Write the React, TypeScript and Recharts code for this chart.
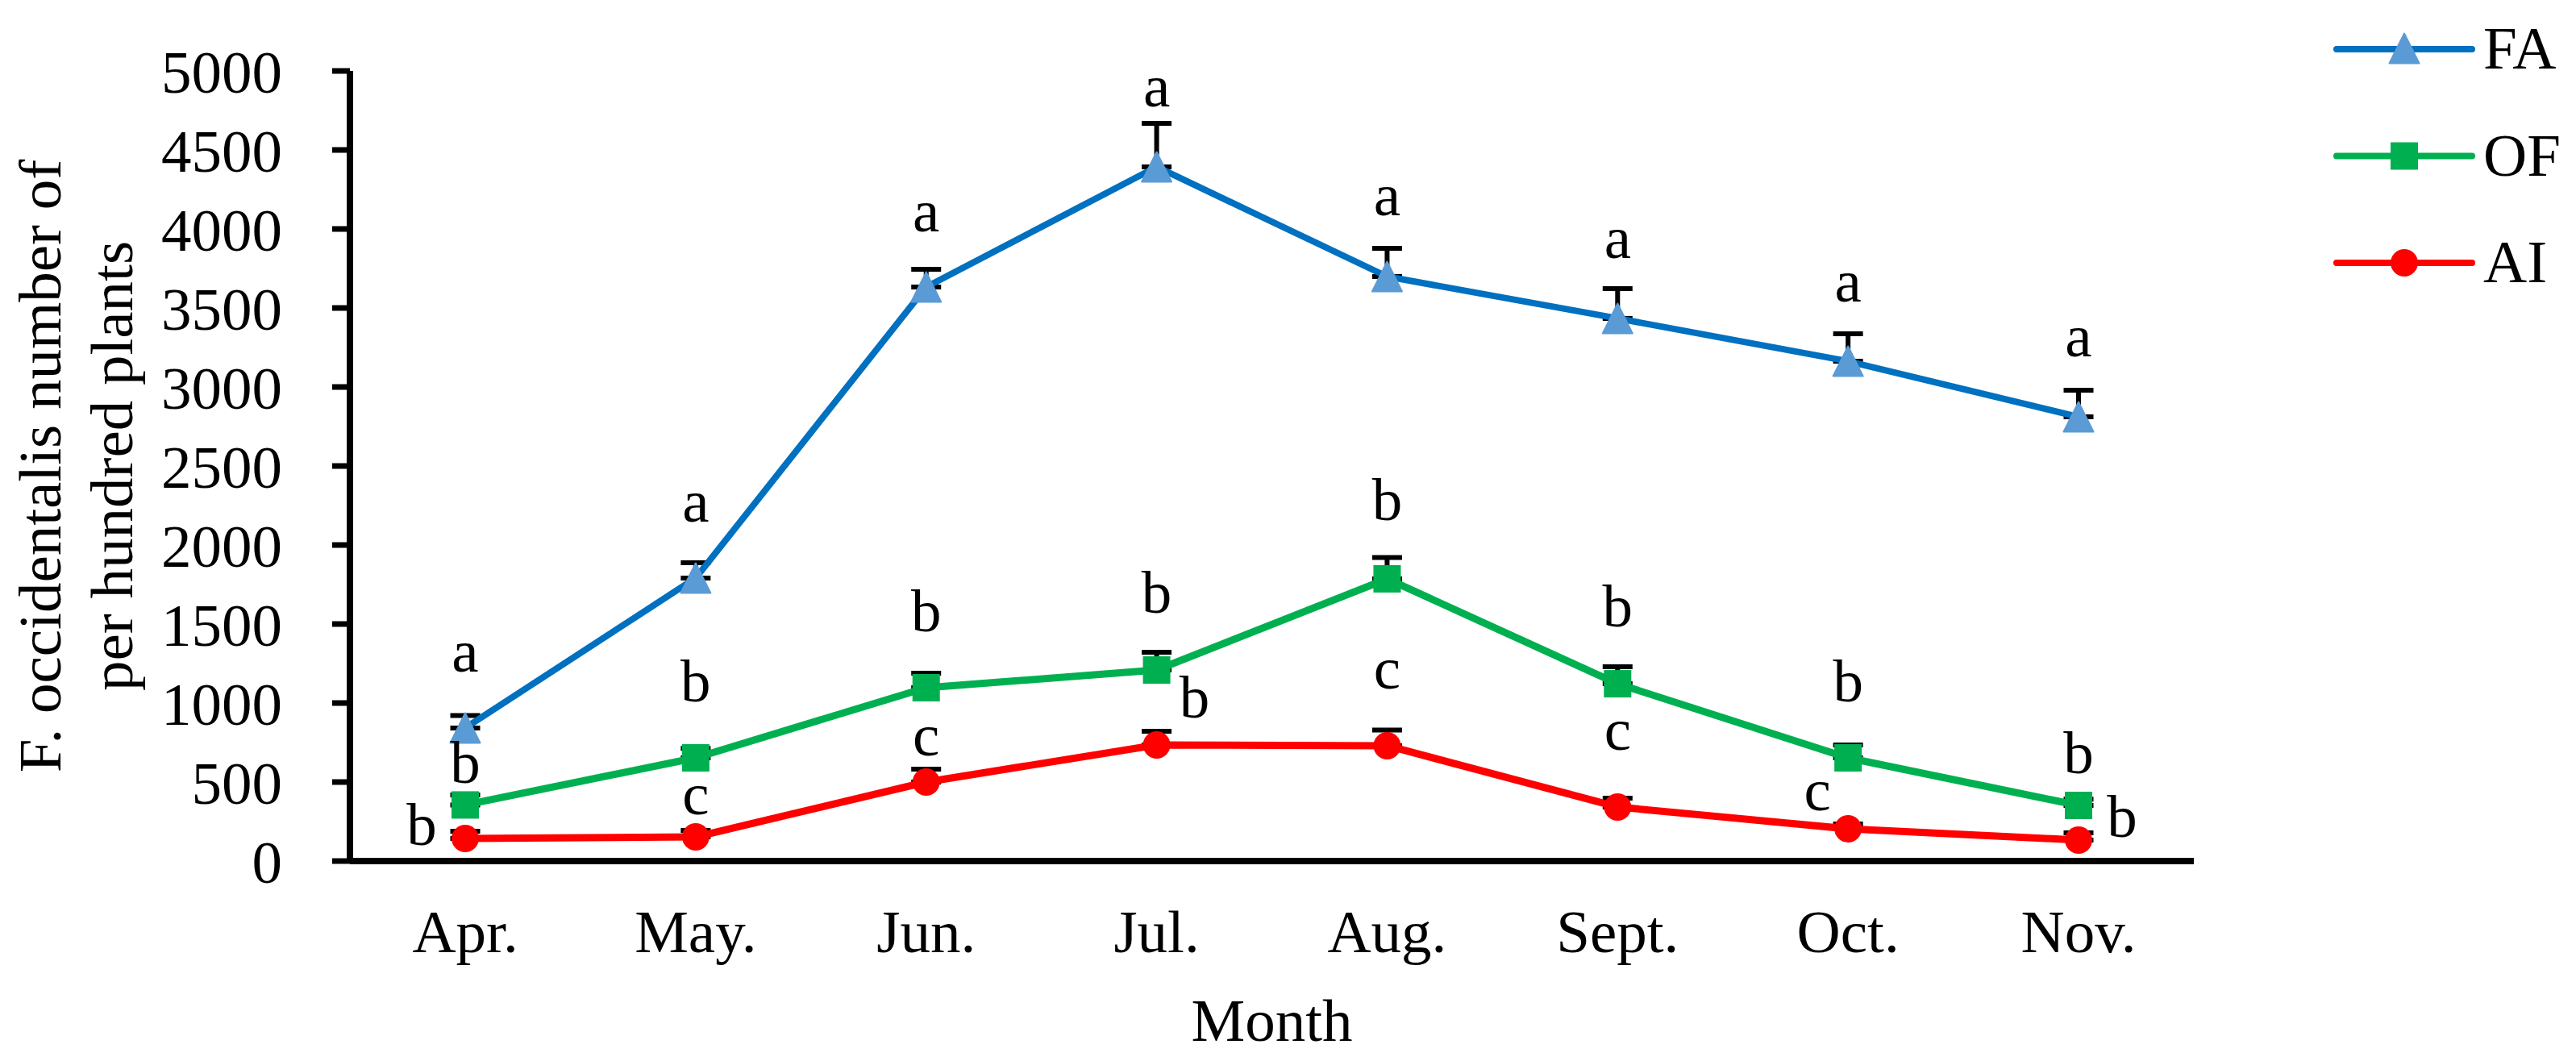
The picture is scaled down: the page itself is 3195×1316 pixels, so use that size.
import React from 'react';
import { LineChart, Line, XAxis, YAxis, ErrorBar, LabelList, Legend } from 'recharts';

// ---- data ----
const months = ['Apr.', 'May.', 'Jun.', 'Jul.', 'Aug.', 'Sept.', 'Oct.', 'Nov.'];
const faValues = [842, 1791, 3633, 4393, 3699, 3434, 3163, 2811];
const faErr = [79, 97, 112, 275, 179, 188, 174, 169];
const faSig = ['a', 'a', 'a', 'a', 'a', 'a', 'a', 'a'];
const ofValues = [355, 653, 1097, 1209, 1786, 1122, 653, 352];
const ofErr = [63, 60, 92, 112, 135, 108, 82, 40];
const ofSig = ['b', 'b', 'b', 'b', 'b', 'b', 'b', 'b'];
const aiValues = [143, 153, 500, 735, 730, 342, 204, 133];
const aiErr = [46, 41, 82, 86, 99, 56, 31, 46];
const aiSig = ['b', 'c', 'c', 'b', 'c', 'c', 'c', 'b'];
const yTicks = [0, 500, 1000, 1500, 2000, 2500, 3000, 3500, 4000, 4500, 5000];
const seriesNames = ['FA', 'OF', 'AI'];
const yTitle1 = 'F. occidentalis number of';
const yTitle2 = 'per hundred plants';
const xTitle = 'Month';

const data = months.map((m, i) => ({
  month: m,
  FA: faValues[i],
  faErr: [0, faErr[i]],
  faSig: faSig[i],
  OF: ofValues[i],
  ofErr: [0, ofErr[i]],
  ofSig: ofSig[i],
  AI: aiValues[i],
  aiErr: [0, aiErr[i]],
  aiSig: aiSig[i],
}));

// ---- style ----
const FONT = '"Liberation Serif", "Times New Roman", serif';
const FS = 75;
const W = 3187;
const H = 1300;
const FA_LINE = '#0070C0';
const FA_MARK = '#5B9BD5';
const OF_COLOR = '#00B050';
const AI_COLOR = '#FF0000';

// label placement (pixel offsets of the letter baseline from its point)
const faDx = [0, 0, 0, 0, 0, 0, 0, 0];
const faDy = [-70, -70, -69, -75, -76, -75, -74, -75];
const ofDx = [0, 0, 0, 0, 0, 0, 0, 0];
const ofDy = [-27, -70, -70, -71, -73, -71, -70, -40];
const aiDx = [-54, 0, 0, 47, 0, 0, -38, 54];
const aiDy = [8, -28, -33, -34, -71, -71, -23, -4];

const triPath = (cx: number, cy: number, h: number) =>
  `M${cx},${cy - h} L${cx + h},${cy + h} L${cx - h},${cy + h} Z`;

const TriangleDot = (p: any) => {
  const { cx, cy, index } = p;
  if (cx == null || cy == null) return <g key={`t${index}`} />;
  return (
    <path key={`t${index}`} d={triPath(cx, cy, 18.5)} fill={FA_MARK} stroke={FA_MARK}
      strokeWidth={2} strokeLinejoin="round" />
  );
};
const SquareDot = (p: any) => {
  const { cx, cy, index } = p;
  if (cx == null || cy == null) return <g key={`s${index}`} />;
  return <rect key={`s${index}`} x={cx - 17} y={cy - 17} width={34} height={34} fill={OF_COLOR} />;
};
const CircleDot = (p: any) => {
  const { cx, cy, index } = p;
  if (cx == null || cy == null) return <g key={`c${index}`} />;
  return <circle key={`c${index}`} cx={cx} cy={cy} r={17} fill={AI_COLOR} />;
};

const makeSigLabel = (dx: number[], dy: number[]) => (props: any) => {
  const { index, value } = props;
  const x = props.x ?? props.viewBox?.x;
  const y = props.y ?? props.viewBox?.y;
  if (x == null || y == null) return null;
  return (
    <text key={`l${index}`} x={x + dx[index]} y={y + dy[index]} textAnchor="middle"
      fontFamily={FONT} fontSize={FS} fill="#000">
      {value}
    </text>
  );
};

const renderXTitle = (props: any) => {
  const vb = props.viewBox || {};
  return (
    <text x={vb.x + vb.width / 2} y={vb.y + 223} textAnchor="middle" fontFamily={FONT}
      fontSize={FS} fill="#000">
      {xTitle}
    </text>
  );
};

const renderYTitle = (props: any) => {
  const vb = props.viewBox || {};
  const cy = vb.y + vb.height / 2;
  const x1 = vb.x - 59;
  const x2 = vb.x + 30;
  return (
    <g>
      <text x={x1} y={cy} transform={`rotate(-90, ${x1}, ${cy})`} textAnchor="middle"
        fontFamily={FONT} fontSize={FS} fill="#000">
        {yTitle1}
      </text>
      <text x={x2} y={cy} transform={`rotate(-90, ${x2}, ${cy})`} textAnchor="middle"
        fontFamily={FONT} fontSize={FS} fill="#000">
        {yTitle2}
      </text>
    </g>
  );
};

const legendColors = [FA_LINE, OF_COLOR, AI_COLOR];
const renderLegend = () => (
  <svg width={317} height={380} style={{ display: 'block', overflow: 'visible' }}>
    {seriesNames.map((name, i) => {
      const y = 53 + i * 132.5;
      const mx = 104;
      return (
        <g key={name}>
          <line x1={20} y1={y} x2={188} y2={y} stroke={legendColors[i]} strokeWidth={8}
            strokeLinecap="round" />
          {i === 0 && (
            <path d={triPath(mx, y - 1, 18.5)} fill={FA_MARK} stroke={FA_MARK} strokeWidth={2}
              strokeLinejoin="round" />
          )}
          {i === 1 && <rect x={mx - 17} y={y - 17} width={34} height={34} fill={OF_COLOR} />}
          {i === 2 && <circle cx={mx} cy={y} r={17} fill={AI_COLOR} />}
          <text x={202} y={y + 24} fontFamily={FONT} fontSize={FS} fill="#000">
            {name}
          </text>
        </g>
      );
    })}
  </svg>
);

const tickStyle = { fill: '#000', fontSize: FS, fontFamily: FONT };

export default function App() {
  return (
    <div style={{ width: W, height: H, fontFamily: FONT }}>
      <LineChart width={W} height={H} data={data}
        margin={{ top: 80, right: 474, bottom: 40, left: 126 }}>
        <XAxis dataKey="month" padding={{ left: 143, right: 143 }} interval={0}
          axisLine={{ stroke: '#000', strokeWidth: 8 }} tickLine={false} tickSize={6}
          tickMargin={54} tick={tickStyle} height={200}
          label={{ value: xTitle, content: renderXTitle }} />
        <YAxis domain={[0, 5000]} ticks={yTicks} interval={0} width={300}
          axisLine={{ stroke: '#000', strokeWidth: 8 }}
          tickLine={{ stroke: '#000', strokeWidth: 7 }} tickSize={22} tickMargin={62}
          tick={tickStyle} label={{ value: yTitle1, content: renderYTitle }} />
        <Legend layout="vertical" align="center" verticalAlign="middle"
          wrapperStyle={{ left: 2870, top: 0, width: 317 }} content={renderLegend} />
        <Line dataKey="FA" name="FA" stroke={FA_LINE} strokeWidth={8} strokeLinejoin="round"
          dot={TriangleDot} activeDot={false} isAnimationActive={false}>
          <ErrorBar dataKey="faErr" direction="y" width={18.5} strokeWidth={6} stroke="#000" />
          <LabelList dataKey="faSig" content={makeSigLabel(faDx, faDy)} />
        </Line>
        <Line dataKey="OF" name="OF" stroke={OF_COLOR} strokeWidth={9} strokeLinejoin="round"
          dot={SquareDot} activeDot={false} isAnimationActive={false}>
          <ErrorBar dataKey="ofErr" direction="y" width={18.5} strokeWidth={6} stroke="#000" />
          <LabelList dataKey="ofSig" content={makeSigLabel(ofDx, ofDy)} />
        </Line>
        <Line dataKey="AI" name="AI" stroke={AI_COLOR} strokeWidth={9} strokeLinejoin="round"
          dot={CircleDot} activeDot={false} isAnimationActive={false}>
          <ErrorBar dataKey="aiErr" direction="y" width={18.5} strokeWidth={6} stroke="#000" />
          <LabelList dataKey="aiSig" content={makeSigLabel(aiDx, aiDy)} />
        </Line>
      </LineChart>
    </div>
  );
}
